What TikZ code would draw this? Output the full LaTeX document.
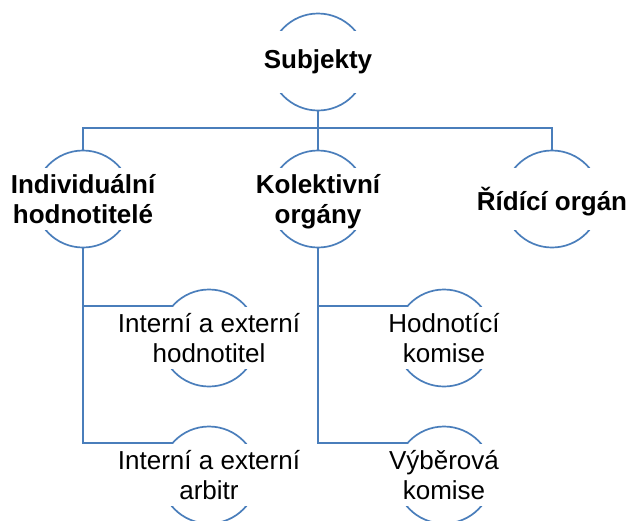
\documentclass[tikz,border=0pt]{standalone}
\usepackage{fontspec}
\setmainfont{Liberation Sans}
\usepackage{tikz}
\usetikzlibrary{
	positioning,
	backgrounds
}
\definecolor{ringblue}{RGB}{74,126,187}

\begin{document}
\begin{tikzpicture}[x=1pt,y=-1pt,on grid,
		ring/.style={circle,draw=ringblue,fill=white,line width=1.7pt,minimum size=97pt,inner sep=0pt},
		tag/.style={fill=white,minimum width=104pt,minimum height=62pt,inner sep=0pt,align=center,font=\fontsize{26}{30}\selectfont},
		head/.style={tag,font=\fontsize{26}{30}\selectfont\bfseries},
		link/.style={draw=ringblue,line width=1.7pt}
	]
	\useasboundingbox (0,0) rectangle (631,520);

	\node[ring]                                    (subj)  at (318,62) {};
	\node[ring,below=137pt of subj]                (kolek) {};
	\node[ring,left=235pt of kolek]                (indiv) {};
	\node[ring,right=234pt of kolek]               (ridic) {};
	\node[ring,below right=139pt and 126pt of indiv] (ihod) {};
	\node[ring,below=137pt of ihod]                (iarb)  {};
	\node[ring,below right=139pt and 126pt of kolek] (hkom) {};
	\node[ring,below=137pt of hkom]                (vkom)  {};
	\coordinate[below=66pt of subj] (bus);

	\begin{scope}[on background layer]
		\draw[link] (subj) -- (kolek);
		\draw[link] (indiv) |- (bus) -| (ridic);
		\draw[link] (indiv) |- ([yshift=32pt]ihod.center);
		\draw[link] (indiv) |- ([yshift=32pt]iarb.center);
		\draw[link] (kolek) |- ([yshift=32pt]hkom.center);
		\draw[link] (kolek) |- ([yshift=32pt]vkom.center);
	\end{scope}

	\node[head] (subj-t)  at (subj)  {Subjekty};
	\node[head] (indiv-t) at (indiv) {Individuální\\hodnotitelé};
	\node[head,text depth=0pt] (kolek-t) at (kolek) {Kolektivní\\orgány};
	\node[head,text depth=0pt] (ridic-t) at (ridic) {Řídící orgán};
	\node[tag]  (ihod-t)  at (ihod)  {Interní a externí\\hodnotitel};
	\node[tag]  (iarb-t)  at (iarb)  {Interní a externí\\arbitr};
	\node[tag]  (hkom-t)  at (hkom)  {Hodnotící\\komise};
	\node[tag]  (vkom-t)  at (vkom)  {Výběrová\\komise};
\end{tikzpicture}
\end{document}
